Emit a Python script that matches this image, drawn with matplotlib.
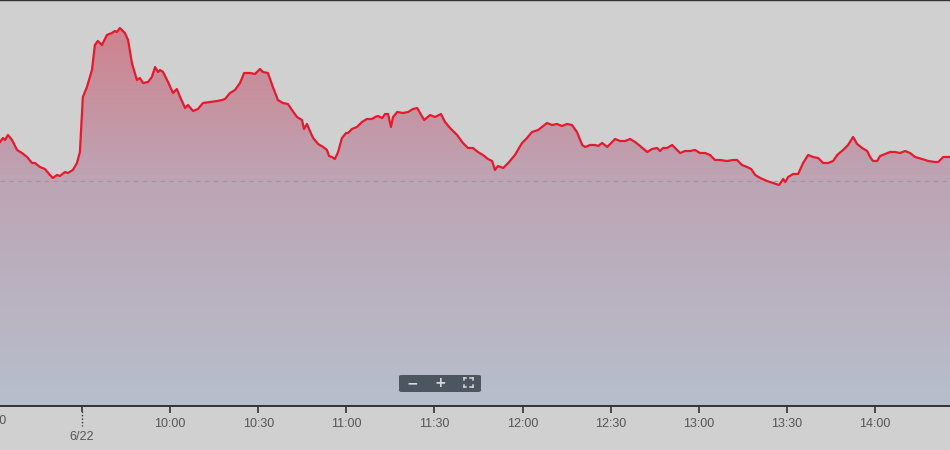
import matplotlib
matplotlib.use("Agg")
import matplotlib.pyplot as plt
import numpy as np
from matplotlib.colors import LinearSegmentedColormap
from matplotlib.patches import FancyBboxPatch
import matplotlib.transforms as mtransforms

# trading minutes relative to 6/22 09:30 (negative = previous session)
minutes = [
    -27.9, -26.9, -26.2, -25.2, -23.8, -22.1, -20.4, -18.7, -17.0, -16.0,
    -14.3, -12.6, -10.9, -9.9, -8.5, -7.5, -5.8, -4.8, -3.1, -1.7,
    -0.7, 0.3, 1.7, 3.4, 4.4, 5.4, 6.8, 8.5, 10.2, 11.2,
    11.9, 12.9, 14.6, 15.7, 17.0, 18.7, 19.7, 20.8, 22.5, 23.8,
    24.9, 25.9, 26.6, 27.6, 29.3, 31.0, 32.3, 33.4, 35.1, 36.1,
    37.8, 39.5, 41.2, 43.6, 46.0, 47.7, 48.7, 50.4, 52.1, 53.8,
    55.2, 57.2, 58.9, 60.6, 61.6, 63.3, 65.0, 66.7, 68.4, 70.1,
    71.5, 73.2, 74.9, 75.6, 76.6, 77.6, 78.7, 80.4, 82.1, 83.4,
    84.1, 85.1, 86.1, 87.2, 88.5, 89.9, 90.6, 91.9, 93.6, 95.3,
    97.0, 98.7, 99.8, 100.8, 102.2, 103.2, 104.2, 105.2, 105.9, 107.3,
    109.3, 111.0, 112.7, 114.1, 115.1, 116.5, 118.5, 120.2, 122.2, 123.6,
    125.3, 127.7, 129.7, 131.4, 133.1, 134.8, 136.5, 138.2, 139.6, 140.6,
    141.6, 143.4, 145.1, 147.4, 149.8, 151.5, 153.2, 155.3, 157.0, 158.3,
    160.0, 161.7, 163.4, 165.1, 166.8, 168.5, 170.3, 171.3, 173.0, 174.7,
    175.7, 177.1, 178.8, 179.8, 181.5, 183.2, 184.9, 186.6, 188.3, 190.0,
    192.4, 194.1, 195.8, 196.8, 197.8, 199.2, 200.9, 202.6, 203.6, 205.3,
    207.0, 208.7, 210.4, 212.1, 213.8, 215.5, 217.2, 219.6, 221.7, 223.0,
    224.7, 226.4, 227.8, 229.2, 230.9, 233.2, 235.3, 237.3, 238.7, 239.4,
    240.4, 242.1, 243.8, 245.5, 247.2, 248.9, 250.6, 252.3, 254.0, 255.7,
    257.1, 259.1, 260.8, 262.5, 263.9, 265.6, 267.3, 268.3, 269.3, 270.7,
    271.7, 273.4, 275.1, 276.8, 278.5, 280.2, 281.9, 283.6, 286.0, 288.1,
    290.4, 291.5, 293.2, 295.5,
]
# percent change vs previous close
change_pct = [
    0.78, 0.86, 0.82, 0.92, 0.82, 0.62, 0.56, 0.48, 0.36, 0.36,
    0.28, 0.24, 0.12, 0.06, 0.12, 0.10, 0.18, 0.16, 0.22, 0.36,
    0.58, 1.68, 1.88, 2.22, 2.72, 2.80, 2.72, 2.92, 2.96, 3.00,
    2.98, 3.06, 2.96, 2.82, 2.36, 2.02, 2.06, 1.96, 1.98, 2.08,
    2.28, 2.18, 2.22, 2.18, 1.98, 1.76, 1.84, 1.68, 1.46, 1.52,
    1.40, 1.44, 1.56, 1.58, 1.60, 1.62, 1.64, 1.76, 1.82, 1.96,
    2.16, 2.16, 2.14, 2.24, 2.18, 2.16, 1.88, 1.62, 1.56, 1.54,
    1.42, 1.28, 1.22, 1.04, 1.14, 1.00, 0.86, 0.74, 0.68, 0.62,
    0.50, 0.48, 0.44, 0.58, 0.86, 0.96, 0.96, 1.04, 1.08, 1.18,
    1.24, 1.24, 1.28, 1.30, 1.26, 1.34, 1.34, 1.08, 1.28, 1.38,
    1.36, 1.38, 1.44, 1.46, 1.36, 1.22, 1.32, 1.28, 1.34, 1.18,
    1.06, 0.92, 0.76, 0.66, 0.66, 0.58, 0.52, 0.44, 0.40, 0.22,
    0.30, 0.26, 0.36, 0.52, 0.76, 0.86, 0.98, 1.02, 1.10, 1.16,
    1.12, 1.14, 1.10, 1.14, 1.12, 0.98, 0.72, 0.68, 0.72, 0.72,
    0.70, 0.76, 0.68, 0.74, 0.84, 0.80, 0.80, 0.84, 0.78, 0.70,
    0.58, 0.64, 0.66, 0.60, 0.66, 0.66, 0.72, 0.62, 0.56, 0.60,
    0.60, 0.62, 0.56, 0.56, 0.52, 0.42, 0.42, 0.40, 0.42, 0.42,
    0.32, 0.28, 0.24, 0.12, 0.06, 0.00, -0.04, -0.08, 0.04, -0.02,
    0.08, 0.14, 0.14, 0.36, 0.52, 0.48, 0.46, 0.36, 0.36, 0.40,
    0.52, 0.62, 0.72, 0.88, 0.74, 0.66, 0.60, 0.48, 0.40, 0.40,
    0.50, 0.54, 0.58, 0.58, 0.56, 0.60, 0.56, 0.48, 0.44, 0.40,
    0.38, 0.38, 0.48, 0.48,
]
tick_minutes = [30, 60, 90, 120, 150, 180, 210, 240, 270]
tick_labels = ["10:00", "10:30", "11:00", "11:30", "12:00", "12:30", "13:00", "13:30", "14:00"]
prev_tick_minute = -30
prev_tick_label = "14:30"
day_tick_minute = 0
day_label = "6/22"
prev_close_pct = 0.0

plt.rcParams['font.family'] = ['Liberation Sans', 'DejaVu Sans']

BG = '#d0d0d0'
fig = plt.figure(figsize=(9.5, 4.5), dpi=100, facecolor=BG)
ax = fig.add_axes([0, 44 / 450, 1, 406 / 450])
ax.set_facecolor(BG)

x = np.array(minutes)
y = np.array(change_pct)
ymin, ymax = -4.5, 3.62
ax.set_xlim(-27.9, 295.5)
ax.set_ylim(ymin, ymax)

# gradient fill under curve
cmap = LinearSegmentedColormap.from_list(
    'g', [(0.0, '#b7bfcc'), (0.55, '#bda5b5'), (0.95, '#d0808c'), (1.0, '#d27c89')])
grad = np.linspace(0, 1, 256).reshape(-1, 1)
im = ax.imshow(grad, cmap=cmap, aspect='auto', origin='lower',
               extent=[-27.9, 295.5, ymin, ymax], zorder=1)
poly = ax.fill_between(x, y, ymin, color='none', lw=0)
im.set_clip_path(poly.get_paths()[0], transform=ax.transData)

ax.axhline(prev_close_pct, color='#9a9a9a', lw=0.8, ls=(0, (4, 4)), zorder=2)
ax.plot(x, y, color='#e6192d', lw=1.6, zorder=3, solid_joinstyle='round')

for s in ['left', 'right']:
    ax.spines[s].set_visible(False)
ax.spines['top'].set_color('#333333')
ax.spines['top'].set_linewidth(1.0)
ax.spines['bottom'].set_color('#333333')
ax.spines['bottom'].set_linewidth(1.4)
ax.set_yticks([])
ax.set_xticks(tick_minutes)
ax.set_xticklabels(tick_labels)
ax.tick_params(axis='x', length=5, width=1.2, color='#333333', pad=3.5,
               labelsize=9, labelcolor='#555555')

# day break tick
trans = mtransforms.blended_transform_factory(ax.transData, ax.transAxes)
px = 1 / 406
ax.plot([day_tick_minute, day_tick_minute], [0, -5 * px], color='#333333', lw=1.2,
        transform=trans, clip_on=False)
ax.plot([day_tick_minute, day_tick_minute], [-5 * px, -20 * px], color='#333333', lw=1,
        ls=(0, (1, 1.5)), transform=trans, clip_on=False)
ax.text(day_tick_minute, -31 * px, day_label, transform=trans, ha='center', va='center',
        fontsize=9, color='#555555', clip_on=False)
# previous-session label, mostly off the left edge as in the reference
shift = mtransforms.offset_copy(trans, fig=fig, x=-3, y=0, units='dots')
ax.text(prev_tick_minute, -15.5 * px, prev_tick_label, transform=shift, ha='center',
        va='center', fontsize=9, color='#555555', clip_on=False)

# zoom control box
fx = lambda p: p / 950
fy = lambda p: 1 - p / 450
box = FancyBboxPatch((fx(399), fy(392)), fx(82), 17 / 450,
                     boxstyle='round,pad=0,rounding_size=0.003',
                     transform=fig.transFigure, facecolor='#4b5660', edgecolor='none')
fig.patches.append(box)
fig.text(fx(412), fy(383), '\u2212', ha='center', va='center', color='#d8d8d8',
         fontsize=10, fontweight='bold', family='DejaVu Sans')
fig.text(fx(440), fy(383), '+', ha='center', va='center', color='#d8d8d8',
         fontsize=10, fontweight='bold', family='DejaVu Sans')
# fullscreen icon: four corners
cx, cy, r, c = 468, 382.5, 4.5, 2.2
for sx in (-1, 1):
    for sy in (-1, 1):
        x0, y0 = cx + sx * r, cy + sy * r
        fig.lines.append(plt.Line2D([fx(x0), fx(x0 - sx * c)], [fy(y0), fy(y0)],
                                    transform=fig.transFigure, color='#d8d8d8', lw=1.1))
        fig.lines.append(plt.Line2D([fx(x0), fx(x0)], [fy(y0), fy(y0 - sy * c)],
                                    transform=fig.transFigure, color='#d8d8d8', lw=1.1))

fig.savefig('out.png', dpi=100, facecolor=BG)
